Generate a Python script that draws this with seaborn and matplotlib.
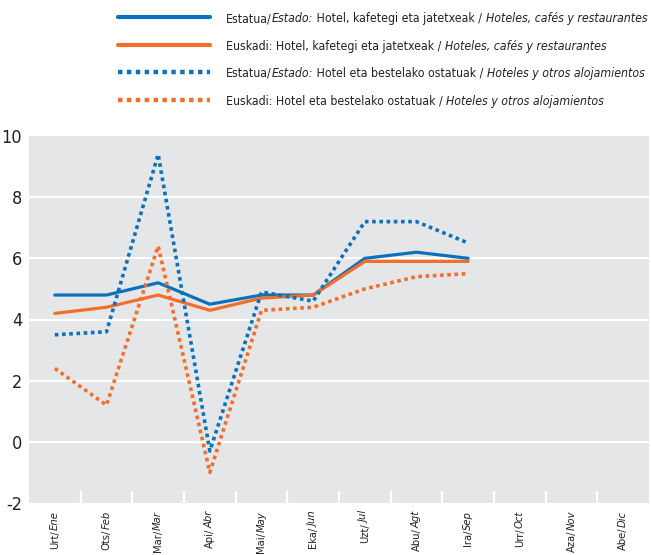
import matplotlib
matplotlib.use("Agg")
import matplotlib.pyplot as plt
import seaborn as sns
import numpy as np
import pandas as pd
from matplotlib.lines import Line2D
from matplotlib.ticker import FixedLocator
from matplotlib import font_manager as fm
from matplotlib import transforms as mtrans

# ---- data ----
months_eu = ["Urt", "Ots", "Mar", "Api", "Mai", "Eka", "Uzt", "Abu", "Ira", "Urr", "Aza", "Abe"]
months_es = ["Ene", "Feb", "Mar", "Abr", "May", "Jun", "Jul", "Agt", "Sep", "Oct", "Nov", "Dic"]

estado_hcr = [4.8, 4.8, 5.2, 4.5, 4.8, 4.8, 6.0, 6.2, 6.0]
euskadi_hcr = [4.2, 4.4, 4.8, 4.3, 4.7, 4.8, 5.9, 5.9, 5.9]
estado_hoa = [3.5, 3.6, 9.4, -0.3, 4.9, 4.6, 7.2, 7.2, 6.5]
euskadi_hoa = [2.4, 1.2, 6.4, -1.0, 4.3, 4.4, 5.0, 5.4, 5.5]

series_names = ["estado_hcr", "euskadi_hcr", "estado_hoa", "euskadi_hoa"]
# legend labels as (text, italic?) pieces
legend_labels = [
    [("Estatua/", False), ("Estado:", True), (" Hotel, kafetegi eta jatetxeak / ", False),
     ("Hoteles, cafés y restaurantes", True)],
    [("Euskadi: Hotel, kafetegi eta jatetxeak / ", False), ("Hoteles, cafés y restaurantes", True)],
    [("Estatua/", False), ("Estado:", True), (" Hotel eta bestelako ostatuak / ", False),
     ("Hoteles y otros alojamientos", True)],
    [("Euskadi: Hotel eta bestelako ostatuak / ", False), ("Hoteles y otros alojamientos", True)],
]
yticks = [-2, 0, 2, 4, 6, 8, 10]

BLUE = "#0A72BA"
ORANGE = "#F26E2A"
TXT = "#222222"
colors = [BLUE, ORANGE, BLUE, ORANGE]
dotted = (0, (1, 1))
styles = ["-", "-", dotted, dotted]

# ---- theme / font selection ----
sns.set_theme(style="white")
ttf = fm.fontManager.ttflist
FAM, STRETCH = "DejaVu Sans", "normal"
for fam, st in [("Liberation Sans Narrow", None), ("DejaVu Sans", "condensed"),
                ("Roboto Condensed", None), ("Open Sans Condensed", None)]:
    if st is None:
        if any(f.name == fam for f in ttf):
            FAM, STRETCH = fam, "normal"
            break
    else:
        if any(f.name == fam and str(f.stretch).lower() in ("condensed", "semi-condensed") for f in ttf):
            FAM, STRETCH = fam, "condensed"
            break
NARROW = FAM != "DejaVu Sans" or STRETCH == "condensed"
plt.rcParams["font.family"] = [FAM, "DejaVu Sans"]


def fp(size, italic=False):
    return fm.FontProperties(family=FAM, stretch=STRETCH, size=size,
                             style="italic" if italic else "normal")


df = pd.DataFrame({
    "x": list(range(len(estado_hcr))) * 4,
    "value": estado_hcr + euskadi_hcr + estado_hoa + euskadi_hoa,
    "series": sum([[n] * len(estado_hcr) for n in series_names], []),
})

W, H = 651, 555
fig = plt.figure(figsize=(W / 100, H / 100), dpi=100)
ax = fig.add_axes([29 / W, (H - 503) / H, (649 - 29) / W, (503 - 136) / H])
ax.set_facecolor("#E5E6E8")

for name, c, ls in zip(series_names, colors, styles):
    sub = df[df["series"] == name]
    lw = 2.3 if ls == "-" else 2.6
    sns.lineplot(data=sub, x="x", y="value", ax=ax, color=c, linestyle=ls,
                 linewidth=lw, legend=False)

ax.set_xlim(-0.5, 11.5)
ax.set_ylim(-2, 10)
ax.set_xlabel("")
ax.set_ylabel("")
for s in ax.spines.values():
    s.set_visible(False)

for yv in yticks[1:-1]:
    ax.axhline(yv, color="white", linewidth=1.6, zorder=0.5)

ysize = 13 if NARROW else 11.5
ax.set_yticks(yticks)
ax.set_yticklabels([str(v) for v in yticks], color=TXT)
for lab in ax.get_yticklabels():
    lab.set_fontproperties(fp(ysize))
ax.tick_params(axis="y", length=0, pad=5)

ax.set_xticks(range(12))
ax.set_xticklabels([])
ax.tick_params(axis="x", which="major", length=0)
ax.xaxis.set_minor_locator(FixedLocator(np.arange(0.5, 11.5, 1)))
ax.tick_params(axis="x", which="minor", direction="in", length=9, width=1.6,
               color="white", bottom=True)

renderer = fig.canvas.get_renderer()

# ---- rotated month labels with italic Spanish part ----
xsize = 11.5 if NARROW else 10
label_top = 511  # pixel from top
for _ in range(3):
    maxlen = 0
    for a, b in zip(months_eu, months_es):
        t1 = fig.text(0, 0, b, fontproperties=fp(xsize, True), rotation=90)
        t2 = fig.text(0, 0, a + "/", fontproperties=fp(xsize), rotation=90)
        L = t1.get_window_extent(renderer).height + t2.get_window_extent(renderer).height
        t1.remove(); t2.remove()
        maxlen = max(maxlen, L)
    if label_top + maxlen > H - 2:
        xsize *= (H - 2 - label_top) / maxlen
    else:
        break

base = mtrans.blended_transform_factory(ax.transData, fig.transFigure)
for i, (a, b) in enumerate(zip(months_eu, months_es)):
    y0 = 1 - label_top / H
    t1 = ax.text(i, y0, b, fontproperties=fp(xsize, True), rotation=90,
                 ha="center", va="top", color=TXT, transform=base, clip_on=False)
    h1 = t1.get_window_extent(renderer).height
    ax.text(i, y0 - h1 / H, a + "/", fontproperties=fp(xsize), rotation=90,
            ha="center", va="top", color=TXT, transform=base, clip_on=False)

# ---- legend (manual, figure coordinates) ----
rows_y = [17, 45, 72, 100]
lsize = 11.5 if NARROW else 10


def legend_width(size):
    mx = 0
    for parts in legend_labels:
        w = 0
        for txt, it in parts:
            t = fig.text(0, 0, txt, fontproperties=fp(size, it))
            w += t.get_window_extent(renderer).width
            t.remove()
        mx = max(mx, w)
    return mx


wmax = legend_width(lsize)
if 226 + wmax > W - 2:
    lsize *= (W - 2 - 226) / wmax

for parts, c, ls, yy in zip(legend_labels, colors, styles, rows_y):
    yf = 1 - yy / H
    lw = 3 if ls == "-" else 3.2
    fig.add_artist(Line2D([118 / W, 210 / W], [yf, yf], color=c, linestyle=ls,
                          linewidth=lw, transform=fig.transFigure))
    xpix = 226
    for txt, it in parts:
        t = fig.text(xpix / W, yf, txt, fontproperties=fp(lsize, it), va="center_baseline",
                     ha="left", color=TXT)
        xpix += t.get_window_extent(renderer).width

fig.savefig("out.png", dpi=100)
